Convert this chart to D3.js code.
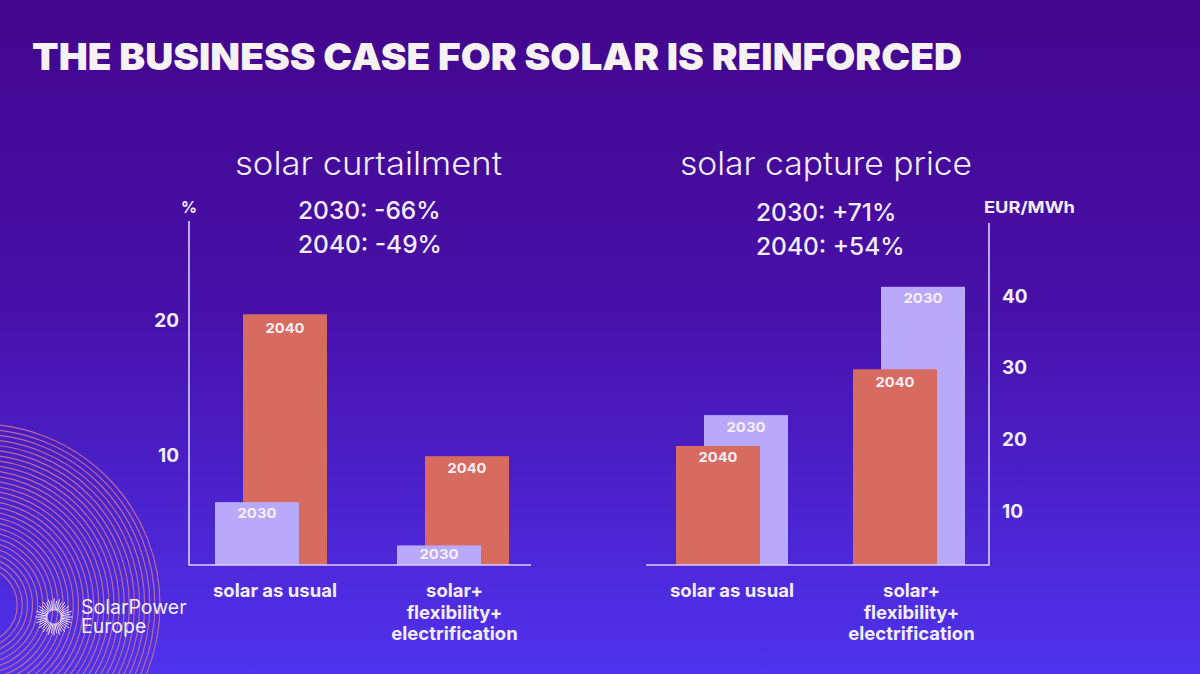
<!DOCTYPE html>
<html lang="en">
<head>
<meta charset="utf-8">
<title>The business case for solar is reinforced</title>
<script src="https://cdn.jsdelivr.net/npm/d3@7"></script>
<style>
	html, body { margin: 0; padding: 0; background: #4510a0; overflow: hidden; }
	svg { display: block; }
	text { font-family: Inter, "Noto Sans", sans-serif; }
</style>
</head>
<body>
<script>
// data
var categories = ["solar as usual", "solar+ flexibility+ electrification"];
var categoryLines = [["solar as usual"], ["solar+", "flexibility+", "electrification"]];
var curtailment2030 = [6.5, 3.3];
var curtailment2040 = [20.4, 9.9];
var capture2030 = [23.4, 41.3];
var capture2040 = [19.1, 29.8];
var curtailmentTicks = [10, 20];
var captureTicks = [10, 20, 30, 40];
var curtailmentNotes = ["2030: -66%", "2040: -49%"];
var captureNotes = ["2030: +71%", "2040: +54%"];

var w = 1200, h = 674;
var lilac = "#b9a9fb", coral = "#d76b5f", ink = "#f3edfb";

var svg = d3.select("body").append("svg").attr("width", w).attr("height", h);

// background
var grad = svg.append("defs").append("linearGradient")
	.attr("id", "bg").attr("x1", 0).attr("y1", 0).attr("x2", 0).attr("y2", 1);
grad.append("stop").attr("offset", "0%").attr("stop-color", "#42058c");
grad.append("stop").attr("offset", "45%").attr("stop-color", "#4710a8");
grad.append("stop").attr("offset", "100%").attr("stop-color", "#4f33ee");
svg.append("rect").attr("width", w).attr("height", h).attr("fill", "url(#bg)");

// decorative rings, bottom left
svg.append("g").selectAll("circle")
	.data(d3.range(181, 34, -5.1))
	.join("circle")
	.attr("cx", -21)
	.attr("cy", 605)
	.attr("r", function (d) { return d; })
	.attr("fill", "none")
	.attr("stroke", "#b86a9c")
	.attr("stroke-width", 1.2);

// title
svg.append("text")
	.attr("x", 32).attr("y", 70)
	.attr("font-size", 37.5)
	.attr("font-weight", 900)
	.attr("fill", "#f6f1f3")
	.attr("textLength", 930)
	.attr("lengthAdjust", "spacingAndGlyphs")
	.text("THE BUSINESS CASE FOR SOLAR IS REINFORCED");

function drawPanel(o) {
	var g = svg.append("g");
	var x = d3.scalePoint().domain(categories).range(o.xRange);
	var off = d3.scalePoint().domain(["left", "right"]).range([-42, -14]);
	var y = d3.scaleLinear().domain(o.domain).range([565, o.top]);
	var bw = 84;

	o.series.forEach(function (s) {
		var bars = g.append("g").selectAll("g")
			.data(s.values.map(function (v, i) { return { v: v, c: categories[i] }; }))
			.join("g");
		bars.append("rect")
			.attr("x", function (d) { return x(d.c) + off(s.side); })
			.attr("y", function (d) { return y(d.v); })
			.attr("width", bw)
			.attr("height", function (d) { return 565 - y(d.v); })
			.attr("fill", s.color);
		bars.append("text")
			.attr("x", function (d) { return x(d.c) + off(s.side) + bw / 2; })
			.attr("y", function (d, i) { return y(d.v) + s.labelDy[i]; })
			.attr("text-anchor", "middle")
			.attr("font-size", 13.5)
			.attr("font-weight", 700)
			.attr("textLength", 39)
			.attr("lengthAdjust", "spacingAndGlyphs")
			.attr("fill", "#f6effa")
			.text(s.name);
	});

	// axes lines
	g.append("path")
		.attr("d", o.axisPath)
		.attr("fill", "none")
		.attr("stroke", "#d9cffc")
		.attr("stroke-width", 1.6);

	// tick labels
	var axis = (o.side === "left" ? d3.axisLeft(y) : d3.axisRight(y))
		.tickValues(o.ticks).tickSize(0).tickPadding(0);
	var ax = g.append("g").attr("transform", "translate(" + o.tickX + "," + o.tickShift + ")").call(axis);
	ax.select(".domain").remove();
	ax.selectAll("text")
		.attr("font-size", 19)
		.attr("font-weight", 700)
		.attr("fill", ink)
		.style("font-family", "Inter, sans-serif");

	g.append("text")
		.attr("x", o.unitX).attr("y", 212.5)
		.attr("text-anchor", "middle")
		.attr("font-size", 16).attr("font-weight", 700).attr("fill", ink)
		.attr("textLength", o.unitLength)
		.attr("lengthAdjust", "spacingAndGlyphs")
		.text(o.unit);

	g.append("text")
		.attr("x", o.titleX).attr("y", 175)
		.attr("font-size", 32).attr("font-weight", 300).attr("fill", ink)
		.attr("textLength", o.titleLength)
		.attr("lengthAdjust", "spacingAndGlyphs")
		.text(o.title);

	g.selectAll(".note").data(o.notes).join("text")
		.attr("class", "note")
		.attr("x", o.noteX)
		.attr("y", function (d, i) { return o.noteY + i * 34; })
		.attr("font-size", 24.5).attr("font-weight", 500).attr("fill", ink)
		.text(function (d) { return d; });

	// category labels
	categories.forEach(function (c, i) {
		categoryLines[i].forEach(function (line, j) {
			g.append("text")
				.attr("x", o.labelX[i])
				.attr("y", 597 + j * 21.5)
				.attr("text-anchor", "middle")
				.attr("font-size", 18.5).attr("font-weight", 700).attr("fill", ink)
				.text(line);
		});
	});
}

drawPanel({
	title: "solar curtailment", titleX: 235, titleLength: 267,
	notes: curtailmentNotes, noteX: 298, noteY: 219,
	unit: "%", unitX: 189, unitLength: 16,
	xRange: [257, 439],
	domain: [1.85, 27.3], top: 221,
	ticks: curtailmentTicks, side: "left", tickX: 179, tickShift: 1,
	axisPath: "M189,221V565H531",
	labelX: [275, 454.5],
	series: [
		{ name: "2040", values: curtailment2040, color: coral, side: "right", labelDy: [19, 17] },
		{ name: "2030", values: curtailment2030, color: lilac, side: "left", labelDy: [16, 14] }
	]
});

drawPanel({
	title: "solar capture price", titleX: 680, titleLength: 292,
	notes: captureNotes, noteX: 756, noteY: 221,
	unit: "EUR/MWh", unitX: 1029.5, unitLength: 91,
	xRange: [718, 895],
	domain: [2.5, 50.2], top: 223,
	ticks: captureTicks, side: "right", tickX: 1002, tickShift: 0,
	axisPath: "M646,565H989V223",
	labelX: [732, 911.5],
	series: [
		{ name: "2030", values: capture2030, color: lilac, side: "right", labelDy: [17, 16] },
		{ name: "2040", values: capture2040, color: coral, side: "left", labelDy: [16, 18] }
	]
});

// logo
var logo = svg.append("g").attr("transform", "translate(54,617)");
logo.selectAll("line")
	.data(d3.range(0, 360, 9))
	.join("line")
	.attr("x1", function (d) { return 6.5 * Math.cos(d * Math.PI / 180); })
	.attr("y1", function (d) { return 6.5 * Math.sin(d * Math.PI / 180); })
	.attr("x2", function (d, i) { return (i % 2 ? 16.5 : 18.5) * Math.cos(d * Math.PI / 180); })
	.attr("y2", function (d, i) { return (i % 2 ? 16.5 : 18.5) * Math.sin(d * Math.PI / 180); })
	.attr("stroke", "#ece6fb")
	.attr("stroke-width", 1);
var logoText = svg.append("text")
	.attr("font-size", 19.5).attr("font-weight", 400).attr("fill", ink);
logoText.append("tspan").attr("x", 81).attr("y", 614).text("SolarPower");
logoText.append("tspan").attr("x", 81).attr("y", 632.5).text("Europe");
</script>
</body>
</html>
